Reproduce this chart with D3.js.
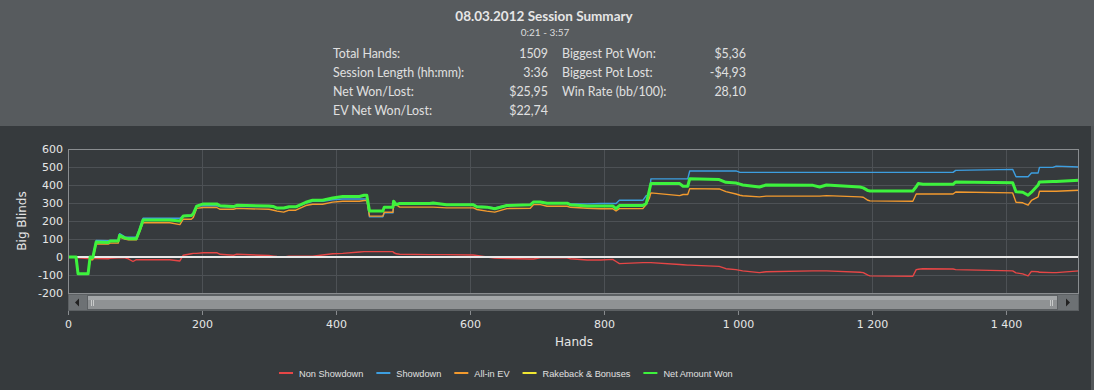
<!DOCTYPE html>
<html>
<head>
<meta charset="utf-8">
<script src="https://cdn.jsdelivr.net/npm/d3@7"></script>
<style>
  body { margin: 0; background: #363a3d; }
  svg { display: block; }
</style>
</head>
<body>
<div id="container"></div>
<script>
// Session data
var hands = [0, 12, 15, 30, 33, 37, 42, 60, 63, 75, 77, 85, 90, 97, 102, 107, 112, 152, 167, 172, 184, 187, 192, 202, 222, 227, 247, 252, 300, 307, 312, 322, 330, 340, 355, 365, 380, 395, 410, 435, 442, 446, 450, 470, 472, 485, 486, 490, 495, 540, 545, 565, 605, 610, 625, 637, 655, 690, 695, 705, 715, 745, 750, 775, 795, 813, 818, 823, 858, 863, 868, 870, 913, 918, 925, 928, 972, 982, 997, 1003, 1007, 1032, 1042, 1112, 1122, 1132, 1182, 1187, 1194, 1197, 1261, 1266, 1269, 1276, 1321, 1325, 1410, 1415, 1425, 1433, 1438, 1448, 1450, 1470, 1475, 1509];

var nonShowdown = [0, 0, -5, -8, -8, -8, -9, -10, -7, -5, -5, -5, -10, -25, -15, -15, -15, -15, -22, 10, 18, 20, 20, 24, 24, 15, 10, 15, 8, 5, 3, 0, 4, 4, 4, 4, 11, 18, 20, 28, 30, 30, 30, 30, 30, 30, 25, 18, 15, 13, 13, 13, 11, 8, 0, -6, -8, -11, -11, -4, -4, -5, -10, -17, -17, -13, -25, -37, -31, -31, -31, -31, -42, -43, -45, -45, -52, -65, -70, -74, -77, -87, -82, -77, -77, -77, -85, -87, -101, -105, -107, -70, -68, -65, -67, -70, -77, -88, -94, -105, -80, -82, -85, -87, -87, -77];

var showdown = [0, 0, -93, -93, 0, -2, 92, 90, 92, 92, 130, 112, 110, 110, 110, 160, 215, 215, 215, 230, 232, 240, 283, 285, 285, 280, 278, 282, 280, 278, 270, 270, 276, 276, 300, 310, 310, 318, 322, 322, 322, 322, 223, 223, 245, 245, 300, 291, 295, 295, 297, 290, 292, 282, 280, 272, 288, 292, 305, 305, 300, 300, 295, 295, 297, 297, 297, 315, 315, 341, 345, 434, 434, 434, 434, 478, 478, 478, 478, 470, 470, 470, 470, 470, 470, 470, 470, 470, 470, 470, 470, 470, 470, 470, 470, 481, 487, 446, 446, 446, 467, 467, 498, 498, 505, 500];

var allInEV = [0, 0, -93, -93, -15, -15, 72, 72, 77, 77, 110, 100, 95, 95, 95, 140, 190, 190, 180, 210, 210, 220, 270, 275, 275, 265, 265, 270, 265, 260, 255, 249, 260, 260, 286, 293, 293, 305, 310, 310, 314, 314, 227, 227, 249, 249, 285, 290, 277, 277, 277, 273, 273, 264, 255, 249, 269, 271, 291, 291, 282, 282, 276, 271, 268, 268, 256, 269, 269, 291, 330, 356, 341, 347, 347, 380, 378, 363, 350, 343, 340, 334, 338, 338, 338, 341, 334, 332, 315, 312, 310, 350, 350, 350, 350, 361, 356, 304, 301, 288, 314, 334, 365, 365, 365, 371];

var rakeback = hands.map(function() { return 0; });

var netWon = [0, 0, -93, -93, 0, -4, 83, 80, 89, 89, 120, 105, 102, 102, 102, 150, 205, 205, 200, 228, 230, 240, 283, 295, 295, 285, 280, 287, 283, 280, 272, 272, 279, 279, 304, 315, 315, 328, 336, 336, 343, 343, 255, 255, 277, 277, 310, 291, 297, 297, 300, 290, 290, 279, 277, 268, 286, 290, 306, 306, 299, 299, 290, 284, 284, 284, 269, 286, 286, 297, 375, 408, 408, 393, 393, 435, 430, 415, 411, 405, 400, 389, 400, 398, 389, 400, 389, 384, 369, 367, 367, 390, 408, 404, 404, 417, 413, 363, 360, 343, 360, 400, 417, 419, 419, 426];

var seriesNames = ["Non Showdown", "Showdown", "All-in EV", "Rakeback & Bonuses", "Net Amount Won"];
var seriesColors = ["#e64646", "#3d9ee0", "#f39a2e", "#f0e632", "#3df23d"];

var yTicks = [-200, -100, 0, 100, 200, 300, 400, 500, 600];
var xTicks = [0, 200, 400, 600, 800, 1000, 1200, 1400];

var statsLeft = [["Total Hands:", "1509"], ["Session Length (hh:mm):", "3:36"], ["Net Won/Lost:", "$25,95"], ["EV Net Won/Lost:", "$22,74"]];
var statsRight = [["Biggest Pot Won:", "$5,36"], ["Biggest Pot Lost:", "-$4,93"], ["Win Rate (bb/100):", "28,10"]];

var W = 1094, H = 390;
var svg = d3.select("#container").append("svg")
    .attr("width", W).attr("height", H);

// background
svg.append("rect").attr("width", W).attr("height", H).attr("fill", "#363a3d");
svg.append("rect").attr("width", W).attr("height", 126).attr("fill", "#575b5e");
svg.append("rect").attr("x", 1091).attr("y", 126).attr("width", 3).attr("height", H - 126).attr("fill", "#53575a");

// header
var headFont = "Lato, 'Open Sans', sans-serif";
svg.append("text").attr("x", 544).attr("y", 21).attr("text-anchor", "middle")
    .attr("font-family", headFont).attr("font-weight", "bold").attr("font-size", 13.5)
    .attr("fill", "#e6e6e6").text("08.03.2012 Session Summary");
svg.append("text").attr("x", 545).attr("y", 36).attr("text-anchor", "middle")
    .attr("font-family", headFont).attr("font-size", 10)
    .attr("fill", "#dcdcdc").text("0:21 - 3:57");

function statRows(rows, lx, vx) {
    rows.forEach(function(r, i) {
        var ty = 58 + i * 19;
        svg.append("text").attr("x", lx).attr("y", ty).attr("font-family", headFont).attr("font-size", 12.4)
            .attr("fill", "#e0e0e0").text(r[0]);
        svg.append("text").attr("x", vx).attr("y", ty).attr("text-anchor", "end").attr("font-family", headFont)
            .attr("font-size", 12.4).attr("fill", "#e0e0e0").text(r[1]);
    });
}
statRows(statsLeft, 333, 548);
statRows(statsRight, 562, 746);

// chart
var pLeft = 68, pRight = 1079, pTop = 149, pBottom = 293;
var x = d3.scaleLinear().domain([0, 1509]).range([pLeft, pRight]);
var y = d3.scaleLinear().domain([-200, 600]).range([pBottom, pTop]);

var axisFont = "'DejaVu Sans', Verdana, sans-serif";

// grid
svg.append("g").selectAll("line").data(yTicks).enter().append("line")
    .attr("x1", pLeft).attr("x2", pRight)
    .attr("y1", function(d) { return Math.round(y(d)) + 0.5; })
    .attr("y2", function(d) { return Math.round(y(d)) + 0.5; })
    .attr("stroke", "#4d5155").attr("stroke-width", 1);
svg.append("g").selectAll("line").data(xTicks).enter().append("line")
    .attr("x1", function(d) { return Math.round(x(d)) + 0.5; })
    .attr("x2", function(d) { return Math.round(x(d)) + 0.5; })
    .attr("y1", pTop).attr("y2", pBottom)
    .attr("stroke", "#4d5155").attr("stroke-width", 1);

// y axis labels
svg.append("g").selectAll("text").data(yTicks).enter().append("text")
    .attr("x", 63).attr("y", function(d) { return y(d) + 4; })
    .attr("text-anchor", "end").attr("font-family", axisFont).attr("font-size", 11)
    .attr("fill", "#e6e6e6").text(function(d) { return d; });

svg.append("text").attr("transform", "translate(26," + ((pTop + pBottom) / 2) + ") rotate(-90)")
    .attr("text-anchor", "middle").attr("font-family", axisFont).attr("font-size", 12)
    .attr("fill", "#e6e6e6").text("Big Blinds");

// lines
var seriesData = [nonShowdown, showdown, allInEV, rakeback, netWon];
var line = d3.line()
    .x(function(d, i) { return x(hands[i]); })
    .y(function(d) { return y(d); });

[0, 1, 2, 3].forEach(function(k) {
    svg.append("path").datum(seriesData[k])
        .attr("fill", "none").attr("stroke", seriesColors[k])
        .attr("stroke-width", 1.4).attr("stroke-linejoin", "round")
        .attr("d", line);
});

// zero line
svg.append("line").attr("x1", pLeft).attr("x2", pRight)
    .attr("y1", y(0)).attr("y2", y(0))
    .attr("stroke", "#e8e8e8").attr("stroke-width", 2);

svg.append("path").datum(netWon)
    .attr("fill", "none").attr("stroke", seriesColors[4])
    .attr("stroke-width", 3).attr("stroke-linejoin", "round")
    .attr("d", line);

// plot border
svg.append("rect").attr("x", pLeft + 0.5).attr("y", pTop + 0.5)
    .attr("width", pRight - pLeft - 1).attr("height", pBottom - pTop)
    .attr("fill", "none").attr("stroke", "#8a8d90").attr("stroke-width", 1);

// scrollbar
var sbTop = 294, sbH = 17;
svg.append("rect").attr("x", pLeft).attr("y", sbTop).attr("width", pRight - pLeft).attr("height", sbH).attr("fill", "#5c6063");
svg.append("rect").attr("x", pLeft + 1).attr("y", sbTop + 1).attr("width", 18).attr("height", sbH - 2).attr("fill", "#6d7174");
svg.append("rect").attr("x", pRight - 21).attr("y", sbTop + 1).attr("width", 20).attr("height", sbH - 2).attr("fill", "#6d7174");
svg.append("rect").attr("x", pLeft + 20).attr("y", sbTop + 2).attr("width", pRight - pLeft - 42).attr("height", sbH - 4).attr("fill", "#8f9294");
svg.append("rect").attr("x", pLeft + 20).attr("y", sbTop + 2).attr("width", pRight - pLeft - 42).attr("height", 4).attr("fill", "#a4a7a9");
svg.append("path").attr("d", "M" + (pLeft + 7) + "," + (sbTop + sbH / 2) + "l4,-4v8z").attr("fill", "#222");
svg.append("path").attr("d", "M" + (pRight - 9) + "," + (sbTop + sbH / 2) + "l-4,-4v8z").attr("fill", "#222");
[pLeft + 23, pLeft + 25, pRight - 29, pRight - 27].forEach(function(gx) {
    svg.append("line").attr("x1", gx + 0.5).attr("x2", gx + 0.5).attr("y1", sbTop + 6).attr("y2", sbTop + 12)
        .attr("stroke", "#c8caca").attr("stroke-width", 1);
});

// x axis
var xAxis = svg.append("g").attr("transform", "translate(0," + (sbTop + sbH) + ")")
    .call(d3.axisBottom(x).tickValues(xTicks).tickSize(4)
        .tickFormat(function(d) { return d3.format(",")(d).replace(",", " "); }));
xAxis.select(".domain").remove();
xAxis.selectAll("line").attr("stroke", "#8a8d90");
xAxis.selectAll("text").attr("font-family", axisFont).attr("font-size", 11)
    .attr("fill", "#e6e6e6").attr("dy", "0.9em");

svg.append("text").attr("x", 574).attr("y", 346).attr("text-anchor", "middle")
    .attr("font-family", axisFont).attr("font-size", 12).attr("fill", "#e6e6e6").text("Hands");

// legend
var legend = svg.append("g");
var lx = 279;
seriesNames.forEach(function(name, i) {
    legend.append("line").attr("x1", lx).attr("x2", lx + 14).attr("y1", 373).attr("y2", 373)
        .attr("stroke", seriesColors[i]).attr("stroke-width", 2);
    var t = legend.append("text").attr("x", lx + 20).attr("y", 376.5)
        .attr("font-family", "'Liberation Sans', Arial, sans-serif").attr("font-size", 9.2)
        .attr("fill", "#e0e0e0").text(name);
    lx += 20 + t.node().getComputedTextLength() + 13;
});
</script>
</body>
</html>
